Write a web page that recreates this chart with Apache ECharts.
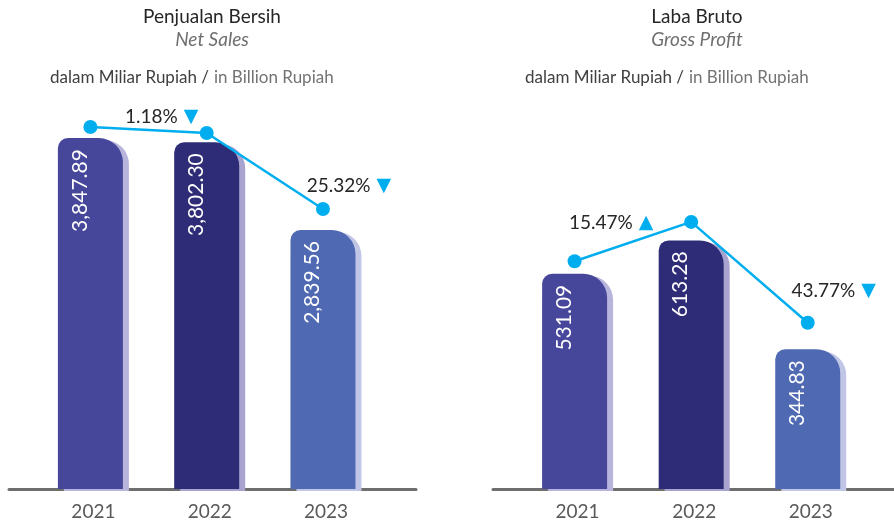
<!DOCTYPE html>
<html>
<head>
<meta charset="utf-8">
<script src="https://cdn.jsdelivr.net/npm/echarts@6/dist/echarts.min.js"></script>
<style>
  html, body { margin: 0; padding: 0; background: #fff; }
  #chart { width: 894px; height: 522px; }
</style>
</head>
<body>
<div id="chart"></div>
<script>
// data
const years = ['2021', '2022', '2023'];

const salesValues = [3847.89, 3802.30, 2839.56];
const salesDots = [3969, 3904, 3070];
const salesChanges = [null, '1.18%', '25.32%'];
const salesDirections = [null, 'down', 'down'];

const profitValues = [531.09, 613.28, 344.83];
const profitDots = [562, 659, 410];
const profitChanges = [null, '15.47%', '43.77%'];
const profitDirections = [null, 'up', 'down'];

const barColors = ['#46479b', '#2e2c77', '#4f69b3'];
const shadowColors = ['#b8b5dc', '#a9a4cf', '#c1c6e6'];
const FONT = 'Lato';
const CYAN = '#00aeef';

function fmtValue(v) {
  return v.toLocaleString('en-US', { minimumFractionDigits: 2, maximumFractionDigits: 2 });
}

function barSeries(values, axisIdx) {
  return {
    type: 'bar',
    xAxisIndex: axisIdx,
    yAxisIndex: axisIdx,
    barWidth: 65,
    z: 2,
    data: values.map((v, i) => ({
      value: [i, v],
      itemStyle: {
        color: barColors[i],
        shadowColor: shadowColors[i],
        shadowOffsetX: 6,
        shadowOffsetY: 2,
        shadowBlur: 0
      }
    })),
    itemStyle: { borderRadius: [10, 24, 0, 0] },
    label: {
      show: true,
      position: 'insideTop',
      distance: 11,
      rotate: 90,
      align: 'right',
      verticalAlign: 'bottom',
      color: '#fff',
      fontFamily: FONT,
      fontSize: 21,
      formatter: p => fmtValue(p.value[1])
    }
  };
}

function lineSeries(dots, changes, directions, offsets, axisIdx) {
  return {
    type: 'line',
    xAxisIndex: axisIdx,
    yAxisIndex: axisIdx,
    z: 5,
    symbol: 'circle',
    symbolSize: 14,
    lineStyle: { color: CYAN, width: 2.5 },
    itemStyle: { color: CYAN },
    data: dots.map((v, i) => {
      const item = { value: [i, v] };
      if (changes[i]) {
        item.label = {
          show: true,
          position: 'inside',
          offset: offsets[i],
          formatter: '{t|' + changes[i] + '}{d|' + (directions[i] === 'up' ? '▲' : '▼') + '}',
          rich: {
            t: { fontFamily: FONT, fontSize: 19, color: '#262626' },
            d: { fontFamily: 'DejaVu Sans', fontSize: 19, color: CYAN, padding: [0, 0, 0, 6] }
          }
        };
      }
      return item;
    })
  };
}

function xAxisFor(gridIdx, min, max) {
  return {
    type: 'value',
    gridIndex: gridIdx,
    min: min,
    max: max,
    splitLine: { show: false },
    axisTick: { show: false },
    axisLine: { show: true, onZero: false, lineStyle: { color: '#6e6e6e', width: 3 } },
    axisLabel: {
      customValues: [0, 1, 2],
      formatter: v => years[Math.round(v)] || '',
      margin: 13,
      padding: [0, 0, 0, 6],
      color: '#595959',
      fontFamily: FONT,
      fontSize: 19
    }
  };
}

function yAxisFor(gridIdx, max) {
  return {
    type: 'value',
    gridIndex: gridIdx,
    min: 0,
    max: max,
    show: false,
    splitLine: { show: false }
  };
}

const titleStyle = { fontFamily: FONT, fontSize: 19, fontWeight: 'normal', color: '#262626' };
const subStyle = { fontFamily: FONT, fontSize: 19, fontStyle: 'italic', color: '#6f6f6f' };
const unitRich = {
  a: { fontFamily: FONT, fontSize: 17, fontWeight: 'normal', color: '#404040' },
  b: { fontFamily: FONT, fontSize: 17, fontWeight: 'normal', color: '#737373' }
};

const chart = echarts.init(document.getElementById('chart'), null, { renderer: 'canvas' });

chart.setOption({
  backgroundColor: '#fff',
  animation: false,
  title: [
    { text: 'Penjualan Bersih', subtext: 'Net Sales', left: 207, top: 2, textAlign: 'center',
      itemGap: 4, textStyle: titleStyle, subtextStyle: subStyle },
    { text: 'Laba Bruto', subtext: 'Gross Profit', left: 692, top: 2, textAlign: 'center',
      itemGap: 4, textStyle: titleStyle, subtextStyle: subStyle },
    { text: '{a|dalam Miliar Rupiah /} {b|in Billion Rupiah}', left: 45, top: 64,
      textStyle: { fontWeight: 'normal', rich: unitRich } },
    { text: '{a|dalam Miliar Rupiah /} {b|in Billion Rupiah}', left: 520, top: 64,
      textStyle: { fontWeight: 'normal', rich: unitRich } }
  ],
  grid: [
    { left: 9, width: 407, top: 33, bottom: 33 },
    { left: 493, width: 401, top: 33, bottom: 33 }
  ],
  xAxis: [xAxisFor(0, -0.7, 2.8), xAxisFor(1, -0.7, 2.74)],
  yAxis: [yAxisFor(0, 5000), yAxisFor(1, 1125)],
  series: [
    barSeries(salesValues, 0),
    lineSeries(salesDots, salesChanges, salesDirections, [null, [-45, -16], [26, -23]], 0),
    barSeries(profitValues, 1),
    lineSeries(profitDots, profitChanges, profitDirections, [null, [-80, 1], [26, -32]], 1)
  ]
});
</script>
</body>
</html>
